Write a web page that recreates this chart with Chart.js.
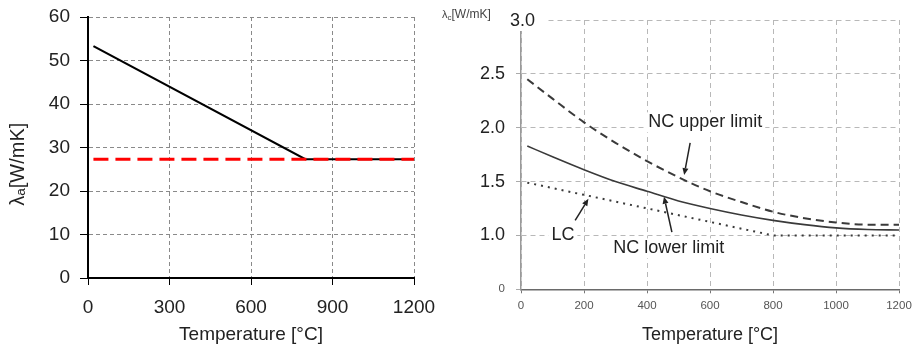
<!DOCTYPE html>
<html>
<head>
<meta charset="utf-8">
<script src="https://cdn.jsdelivr.net/npm/chart.js@4"></script>
<style>
  html, body { margin: 0; padding: 0; background: #fff; }
  #wrap { position: relative; width: 913px; height: 350px; }
  #c1 { position: absolute; left: 0; top: 0; }
  #c2 { position: absolute; left: 440px; top: 0; }
</style>
</head>
<body>
<div id="wrap">
  <canvas id="c1" width="440" height="350"></canvas>
  <canvas id="c2" width="473" height="350"></canvas>
</div>
<script>
// ---------- Left chart data (steel thermal conductivity) ----------
const steelTemps = [20, 800, 1200];
const steelLambda = [53.3, 27.3, 27.3];
const constTemps = [20, 1200];
const constLambda = [27.3, 27.3];
const leftXTicks = [0, 300, 600, 900, 1200];
const leftYTicks = [0, 10, 20, 30, 40, 50, 60];

// ---------- Right chart data (concrete thermal conductivity) ----------
const concTemps = [20, 100, 200, 300, 400, 500, 600, 700, 800, 900, 1000, 1100, 1200];
const ncUpper = [2.45, 2.27, 2.05, 1.86, 1.69, 1.54, 1.41, 1.31, 1.22, 1.16, 1.12, 1.10, 1.10];
const ncLower = [1.83, 1.73, 1.61, 1.50, 1.41, 1.32, 1.25, 1.19, 1.14, 1.10, 1.07, 1.055, 1.05];
const lcTemps = [20, 800, 1200];
const lcValues = [1.49, 1.00, 1.00];
const rightXTicks = [0, 200, 400, 600, 800, 1000, 1200];
const rightYTickLabels = {0.5: '0', 1.0: '1.0', 1.5: '1.5', 2.0: '2.0', 2.5: '2.5', 3.0: '3.0'};

const FONT = "'Liberation Sans', Arial, 'DejaVu Sans', sans-serif";
const pts = (xs, ys) => xs.map((x, i) => ({x, y: ys[i]}));
const noOverhangX = s => { s.paddingLeft = 0; s.paddingRight = 0; };
const noOverhangY = s => { s.paddingTop = 0; s.paddingBottom = 0; };

// ---------- Left chart ----------
new Chart(document.getElementById('c1'), {
  type: 'line',
  data: {
    datasets: [
      { data: pts(constTemps, constLambda), borderColor: '#ff0000', borderWidth: 3,
        borderDash: [15, 7], pointRadius: 0, fill: false },
      { data: pts(steelTemps, steelLambda), borderColor: '#000000', borderWidth: 2.2,
        pointRadius: 0, fill: false, tension: 0 }
    ]
  },
  options: {
    responsive: false, animation: false,
    layout: { padding: { top: 17, right: 26, left: 0, bottom: 0 } },
    plugins: { legend: { display: false }, tooltip: { enabled: false } },
    scales: {
      x: {
        type: 'linear', min: 0, max: 1200,
        afterBuildTicks: s => { s.ticks = leftXTicks.map(v => ({value: v})); },
        afterFit: s => { s.height = 72; noOverhangX(s); },
        ticks: { font: { family: FONT, size: 19 }, color: '#222', padding: 11, maxRotation: 0,
                 callback: v => String(v) },
        grid: { color: '#8a8a8a', tickColor: '#000', tickLength: 7, lineWidth: 1 },
        border: { color: '#000', width: 2, dash: [4, 3] },
        title: { display: true, text: 'Temperature [°C]', font: { family: FONT, size: 19 },
                 color: '#222', padding: { top: 0, bottom: 4 } }
      },
      y: {
        type: 'linear', min: 0, max: 60,
        afterBuildTicks: s => { s.ticks = leftYTicks.map(v => ({value: v})); },
        afterFit: s => { s.width = 88; noOverhangY(s); },
        ticks: { font: { family: FONT, size: 19 }, color: '#222', padding: 10,
                 callback: v => String(v) },
        grid: { color: '#8a8a8a', tickColor: '#000', tickLength: 8, lineWidth: 1 },
        border: { color: '#000', width: 2, dash: [4, 3] },
        title: { display: true, text: 'λₐ[W/mK]      ', font: { family: FONT, size: 20 },
                 color: '#222', padding: { top: 6, bottom: 0 } }
      }
    }
  }
});

// ---------- Right chart annotations (data coordinates) ----------
const labelsRight = [
  { text: 'NC upper limit', x: 585, y: 2.05 },
  { text: 'LC', x: 133, y: 1.00 },
  { text: 'NC lower limit', x: 469, y: 0.88 }
];
const arrowsRight = [
  { from: [537, 1.86], to: [518, 1.56] },
  { from: [172, 1.14], to: [214, 1.34] },
  { from: [479, 1.03], to: [454, 1.36] }
];

const annotPlugin = {
  id: 'annot',
  afterDatasetsDraw(chart) {
    const {ctx, scales: {x, y}} = chart;
    ctx.save();
    ctx.font = `18px ${FONT}`;
    ctx.textAlign = 'center';
    ctx.textBaseline = 'middle';
    labelsRight.forEach(l => {
      const px = x.getPixelForValue(l.x), py = y.getPixelForValue(l.y);
      ctx.fillStyle = '#fff';
      const w = ctx.measureText(l.text).width;
      ctx.fillRect(px - w / 2 - 3, py - 10, w + 6, 20);
      ctx.fillStyle = '#222';
      ctx.fillText(l.text, px, py);
    });
    ctx.strokeStyle = '#222';
    ctx.fillStyle = '#222';
    ctx.lineWidth = 1.5;
    arrowsRight.forEach(a => {
      const x1 = x.getPixelForValue(a.from[0]), y1 = y.getPixelForValue(a.from[1]);
      const x2 = x.getPixelForValue(a.to[0]), y2 = y.getPixelForValue(a.to[1]);
      const ang = Math.atan2(y2 - y1, x2 - x1);
      const hl = 7, hw = 3;
      const bx = x2 - hl * Math.cos(ang), by = y2 - hl * Math.sin(ang);
      ctx.beginPath(); ctx.moveTo(x1, y1); ctx.lineTo(bx, by); ctx.stroke();
      ctx.beginPath();
      ctx.moveTo(x2, y2);
      ctx.lineTo(bx + hw * Math.sin(ang), by - hw * Math.cos(ang));
      ctx.lineTo(bx - hw * Math.sin(ang), by + hw * Math.cos(ang));
      ctx.closePath(); ctx.fill();
    });
    // top tick label "3.0", set slightly to the right as in the original
    ctx.font = `18px ${FONT}`;
    ctx.textAlign = 'left';
    ctx.textBaseline = 'middle';
    const t3 = rightYTickLabels[3.0];
    const tx = x.left - 11, ty = y.getPixelForValue(3.0) + 1;
    ctx.fillStyle = '#fff';
    ctx.fillRect(tx - 2, ty - 10, ctx.measureText(t3).width + 12, 20);
    ctx.fillStyle = '#222';
    ctx.fillText(t3, tx, ty);
    // axis unit label, top-left: λc[W/mK]
    ctx.textBaseline = 'alphabetic';
    ctx.fillStyle = '#444';
    let cx = 2; const base = 18;
    ctx.font = `11px ${FONT}`;
    ctx.fillText('λ', cx, base); cx += ctx.measureText('λ').width;
    ctx.font = `8px ${FONT}`;
    ctx.fillText('c', cx, base + 2); cx += ctx.measureText('c').width;
    ctx.font = `12px ${FONT}`;
    ctx.fillText('[W/mK]', cx, base);
    ctx.restore();
  }
};

// ---------- Right chart ----------
new Chart(document.getElementById('c2'), {
  type: 'line',
  data: {
    datasets: [
      { data: pts(concTemps, ncUpper), borderColor: '#3a3a3a', borderWidth: 2,
        borderDash: [8, 5], pointRadius: 0, fill: false, cubicInterpolationMode: 'monotone' },
      { data: pts(concTemps, ncLower), borderColor: '#3a3a3a', borderWidth: 1.6,
        pointRadius: 0, fill: false, cubicInterpolationMode: 'monotone' },
      { data: pts(lcTemps, lcValues), borderColor: '#3a3a3a', borderWidth: 2,
        borderDash: [2, 5], pointRadius: 0, fill: false, tension: 0 }
    ]
  },
  options: {
    responsive: false, animation: false,
    layout: { padding: { top: 20, right: 14, left: 0, bottom: 0 } },
    plugins: { legend: { display: false }, tooltip: { enabled: false } },
    scales: {
      x: {
        type: 'linear', min: 0, max: 1200,
        afterBuildTicks: s => { s.ticks = rightXTicks.map(v => ({value: v})); },
        ticks: { font: { family: FONT, size: 11.5 }, color: '#555', padding: 6, maxRotation: 0,
                 callback: v => String(v) },
        afterFit: s => { s.height = 60.7; noOverhangX(s); },
        grid: { color: '#b8b8b8', tickColor: '#777', tickLength: 4, lineWidth: 1 },
        border: { color: '#6a6a6a', width: 1.5, dash: [5, 4] },
        title: { display: true, text: 'Temperature [°C]', font: { family: FONT, size: 18 },
                 color: '#222', padding: { top: 0, bottom: 4 } }
      },
      y: {
        type: 'linear', min: 0.5, max: 3.0,
        ticks: {
          stepSize: 0.5,
          callback: v => (v === 3.0 ? '' : (rightYTickLabels[v] ?? '')),
          font: ctx => ({ family: FONT, size: ctx.tick && ctx.tick.value === 0.5 ? 11.5 : 18 }),
          color: ctx => (ctx.tick && ctx.tick.value === 0.5 ? '#555' : '#222'),
          padding: 11
        },
        afterFit: s => { s.width = 81; noOverhangY(s); },
        grid: { color: '#b8b8b8', tickColor: '#aaa', tickLength: 5, lineWidth: 1 },
        border: { color: '#9a9a9a', width: 1.5, dash: [5, 4] }
      }
    }
  },
  plugins: [annotPlugin]
});
</script>
</body>
</html>
